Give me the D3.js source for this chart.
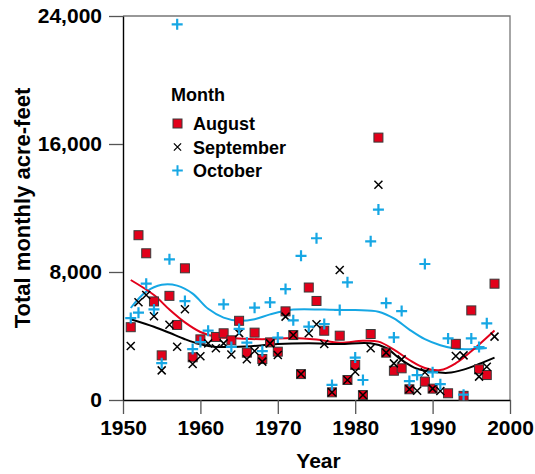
<!DOCTYPE html>
<html>
<head>
<meta charset="utf-8">
<script src="https://cdn.jsdelivr.net/npm/d3@7"></script>
<style>
    body { margin: 0; background: #fff; }
    svg { display: block; font-family: "Liberation Sans", Arial, sans-serif; font-weight: bold; }
</style>
</head>
<body>
<div id="chart"></div>
<script>
// years and monthly totals (acre-feet), null = no mark visible
const years = d3.range(1951, 1999)
const august = [4550, 10300, 9170, 6160, 2790, 6510, 4690, 8230, 2670, 3790,
                null, 3940, 4170, 3730, 4950, 2960, 4210, 2560, 3600, 3020,
                5540, 4060, 1620, 7030, 6190, 4330, 480, 4020, 1250, 2190,
                310, 4125, 16400, 2960, 1830, 1980, 670, null, 1150, 710,
                null, 420, 3510, 260, 5600, 1920, 1560, 7270]
const september = [3380, 6110, 6560, 5240, 1850, 4700, 3330, 5670, 2250, 2740,
                   3540, 3230, 3540, 2840, 4180, 2550, 3060, 2400, 3540, 2810,
                   5210, 4060, 1620, 4170, 4730, 3500, 480, 8125, 1250, 1770,
                   310, 3230, 13450, 2960, 2290, 2540, 670, 580, 1730, 710,
                   560, null, 2750, 2790, null, 1460, 2080, 3960]
const october = [5120, 5460, 7270, 5660, 2300, 8790, 23480, 6180, 3180, 3620,
                 4330, null, 5980, 3320, 4440, 3590, 5770, 3060, 6100, 3900,
                 6930, 4980, 9010, 4580, 10110, 4750, 940, 5625, 7355, 2650,
                 1250, 9920, 11900, 6060, 3910, 5560, 1180, 1560, 8500, 1730,
                 990, 3850, null, 330, 3850, 3310, 4790, null]

// smoothed trend lines
const augustSmoothYears = [1951, 1954, 1956, 1958, 1960, 1962, 1964, 1968, 1972, 1975, 1978, 1981, 1983, 1985, 1987, 1989, 1991, 1993, 1995, 1998]
const augustSmooth = [7500, 6560, 5650, 4850, 4250, 3950, 3870, 3800, 3880, 3780, 3580, 3700, 3650, 3150, 2500, 2000, 1870, 2300, 3050, 4350]
const septemberSmoothYears = [1951, 1954, 1956, 1958, 1960, 1962, 1966, 1970, 1974, 1978, 1982, 1984, 1986, 1988, 1990, 1992, 1994, 1996, 1998]
const septemberSmooth = [5050, 4580, 4200, 3800, 3480, 3320, 3350, 3500, 3540, 3500, 3540, 3250, 2500, 1950, 1760, 1700, 1900, 2250, 2650]
const octoberSmoothYears = [1951, 1953, 1955, 1957, 1959, 1961, 1963, 1965, 1967, 1969, 1972, 1976, 1980, 1983, 1985, 1987, 1989, 1991, 1993, 1995, 1997]
const octoberSmooth = [5750, 6770, 7200, 7150, 6650, 5700, 5150, 4950, 5050, 5350, 5650, 5650, 5620, 5520, 5100, 4400, 3800, 3420, 3200, 3180, 3250]

const xTicks = [1950, 1960, 1970, 1980, 1990, 2000]
const yTicks = [0, 8000, 16000, 24000]
const legendNames = ["August", "September", "October"]

// constants
const width = 535
const height = 474
const margin = {left: 123, right: 510, top: 16, bottom: 400}
const red = "#e2001a"
const blue = "#16a7e4"

const svg = d3.select("#chart").append("svg")
              .attr("width", width)
              .attr("height", height)

// scales
const xScale = d3.scaleLinear()
                 .domain([1950, 2000])
                 .range([margin.left, margin.right])
const yScale = d3.scaleLinear()
                 .domain([0, 24000])
                 .range([margin.bottom, margin.top])

// frame (top and right)
svg.append("path")
   .attr("d", `M${margin.left},${margin.top}H${margin.right}V${margin.bottom}`)
   .attr("fill", "none")
   .attr("stroke", "#777")
   .attr("stroke-width", 1.3)

// axes
const xAxis = svg.append("g")
                 .attr("transform", `translate(0,${margin.bottom})`)
                 .call(d3.axisBottom(xScale).tickValues(xTicks).tickSize(14).tickSizeOuter(0).tickPadding(6).tickFormat(d3.format("d")))
const yAxis = svg.append("g")
                 .attr("transform", `translate(${margin.left},0)`)
                 .call(d3.axisLeft(yScale).tickValues(yTicks).tickSize(14).tickSizeOuter(0).tickPadding(7).tickFormat(d3.format(",")))

for (const ax of [xAxis, yAxis]) {
    ax.select(".domain").attr("stroke", "#000").attr("stroke-width", 1.4)
    ax.selectAll(".tick line").attr("stroke", "#555").attr("stroke-width", 1.3)
    ax.selectAll("text")
      .attr("fill", "#000")
      .style("font-size", "21px")
      .style("font-family", "Liberation Sans, Arial, sans-serif")
      .style("font-weight", "bold")
}

// axis titles
svg.append("text")
   .attr("x", (margin.left + margin.right) / 2 + 2)
   .attr("y", 468)
   .attr("text-anchor", "middle")
   .style("font-size", "21px")
   .text("Year")
svg.append("text")
   .attr("transform", `translate(30,${(margin.top + margin.bottom) / 2}) rotate(-90)`)
   .attr("text-anchor", "middle")
   .style("font-size", "22px")
   .text("Total monthly acre-feet")

// smooth lines
const lineGen = d3.line()
                  .x(d => xScale(d[0]))
                  .y(d => yScale(d[1]))
                  .curve(d3.curveCatmullRom.alpha(0.5))
const smooths = [
    {years: octoberSmoothYears, values: octoberSmooth, color: blue},
    {years: augustSmoothYears, values: augustSmooth, color: red},
    {years: septemberSmoothYears, values: septemberSmooth, color: "#000"}
]
svg.append("g")
   .selectAll("path")
   .data(smooths)
   .join("path")
   .attr("d", s => lineGen(s.years.map((y, i) => [y, s.values[i]])))
   .attr("fill", "none")
   .attr("stroke", s => s.color)
   .attr("stroke-width", 2)

// points
const toPoints = arr => years.map((y, i) => [y, arr[i]]).filter(d => d[1] !== null)

svg.append("g")
   .selectAll("rect")
   .data(toPoints(august))
   .join("rect")
   .attr("x", d => xScale(d[0]) - 4.5)
   .attr("y", d => yScale(d[1]) - 4.5)
   .attr("width", 9)
   .attr("height", 9)
   .attr("fill", red)
   .attr("stroke", "#3a3a3a")
   .attr("stroke-width", 1)

const cross = s => `M${-s},${-s}L${s},${s}M${-s},${s}L${s},${-s}`
const plus = s => `M${-s},0H${s}M0,${-s}V${s}`

svg.append("g")
   .selectAll("path")
   .data(toPoints(september))
   .join("path")
   .attr("transform", d => `translate(${xScale(d[0])},${yScale(d[1])})`)
   .attr("d", cross(4))
   .attr("stroke", "#000")
   .attr("stroke-width", 1.5)

svg.append("g")
   .selectAll("path")
   .data(toPoints(october))
   .join("path")
   .attr("transform", d => `translate(${xScale(d[0])},${yScale(d[1])})`)
   .attr("d", plus(5.5))
   .attr("stroke", blue)
   .attr("stroke-width", 2.2)

// legend
const legend = svg.append("g")
                  .attr("transform", "translate(171,101)")
legend.append("text")
      .style("font-size", "18px")
      .text("Month")
legend.selectAll("g")
      .data(legendNames)
      .join("g")
      .attr("transform", (d, i) => `translate(0,${29 + i * 23.5})`)
      .call(g => {
          g.append("text")
           .attr("x", 22)
           .style("font-size", "18px")
           .text(d => d)
          g.filter((d, i) => i === 0)
           .append("rect")
           .attr("x", 2)
           .attr("y", -11)
           .attr("width", 9)
           .attr("height", 9)
           .attr("fill", red)
           .attr("stroke", "#3a3a3a")
          g.filter((d, i) => i === 1)
           .append("path")
           .attr("transform", "translate(6.5,-6.5)")
           .attr("d", cross(3.6))
           .attr("stroke", "#000")
           .attr("stroke-width", 1.3)
          g.filter((d, i) => i === 2)
           .append("path")
           .attr("transform", "translate(6.5,-6.5)")
           .attr("d", plus(5.3))
           .attr("stroke", blue)
           .attr("stroke-width", 2)
      })
</script>
</body>
</html>
